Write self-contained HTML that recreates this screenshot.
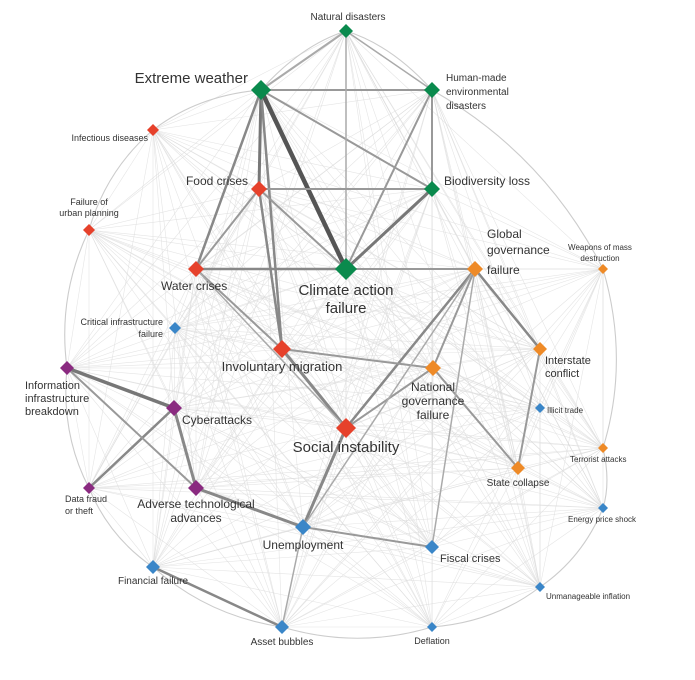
<!DOCTYPE html>
<html><head><meta charset="utf-8"><style>
html,body{margin:0;padding:0;background:#fff;}
svg{display:block;font-family:"Liberation Sans",sans-serif;}
text{fill:#333;}
</style></head><body>
<svg id="s" width="695" height="680" viewBox="0 0 695 680" xmlns="http://www.w3.org/2000/svg">
<g id="mesh"></g><g id="arcs"></g><g id="strong"></g><g id="nodes"></g>
<g font-size="10">
<text x="348" y="20" text-anchor="middle">Natural disasters</text>
<text x="248" y="83" text-anchor="end" font-size="15">Extreme weather</text>
<text x="446" y="81">Human-made</text>
<text x="446" y="95">environmental</text>
<text x="446" y="109">disasters</text>
<text x="148" y="141" text-anchor="end" font-size="9">Infectious diseases</text>
<text x="248" y="185" text-anchor="end" font-size="12">Food crises</text>
<text x="444" y="185" font-size="12">Biodiversity loss</text>
<text x="89" y="205" text-anchor="middle" font-size="9">Failure of</text>
<text x="89" y="216" text-anchor="middle" font-size="9">urban planning</text>
<text x="161" y="290" font-size="12">Water crises</text>
<text x="346" y="295" text-anchor="middle" font-size="15">Climate action</text>
<text x="346" y="313" text-anchor="middle" font-size="15">failure</text>
<text x="487" y="238" font-size="12">Global</text>
<text x="487" y="254" font-size="12">governance</text>
<text x="487" y="274" font-size="12">failure</text>
<text x="600" y="250" text-anchor="middle" font-size="8">Weapons of mass</text>
<text x="600" y="261" text-anchor="middle" font-size="8">destruction</text>
<text x="163" y="325" text-anchor="end" font-size="9">Critical infrastructure</text>
<text x="163" y="337" text-anchor="end" font-size="9">failure</text>
<text x="282" y="371" text-anchor="middle" font-size="13">Involuntary migration</text>
<text x="545" y="364" font-size="11">Interstate</text>
<text x="545" y="377" font-size="11">conflict</text>
<text x="433" y="391" text-anchor="middle" font-size="12">National</text>
<text x="433" y="405" text-anchor="middle" font-size="12">governance</text>
<text x="433" y="419" text-anchor="middle" font-size="12">failure</text>
<text x="25" y="389" font-size="11">Information</text>
<text x="25" y="402" font-size="11">infrastructure</text>
<text x="25" y="415" font-size="11">breakdown</text>
<text x="182" y="424" font-size="12">Cyberattacks</text>
<text x="547" y="413" font-size="8">Illicit trade</text>
<text x="346" y="452" text-anchor="middle" font-size="15">Social instability</text>
<text x="570" y="462" font-size="8">Terrorist attacks</text>
<text x="518" y="486" text-anchor="middle" font-size="10">State collapse</text>
<text x="65" y="502" font-size="9">Data fraud</text>
<text x="65" y="514" font-size="9">or theft</text>
<text x="196" y="508" text-anchor="middle" font-size="12">Adverse technological</text>
<text x="196" y="522" text-anchor="middle" font-size="12">advances</text>
<text x="568" y="522" font-size="8">Energy price shock</text>
<text x="303" y="549" text-anchor="middle" font-size="12">Unemployment</text>
<text x="440" y="562" font-size="11">Fiscal crises</text>
<text x="153" y="584" text-anchor="middle" font-size="10">Financial failure</text>
<text x="546" y="599" font-size="8">Unmanageable inflation</text>
<text x="282" y="645" text-anchor="middle" font-size="10">Asset bubbles</text>
<text x="432" y="644" text-anchor="middle" font-size="9">Deflation</text>
</g>
</svg>
<script>
var G='#0a8a4d',R='#e6412b',O='#ee8a27',B='#3a86c8',P='#8a2a80';
var N={
nd:[346,31,G,7],ew:[261,90,G,10],hm:[432,90,G,8],id:[153,130,R,6],fc:[259,189,R,8],bl:[432,189,G,8],
fu:[89,230,R,6],wc:[196,269,R,8],ca:[346,269,G,11],gg:[475,269,O,8],wm:[603,269,O,5],ci:[175,328,B,6],
im:[282,349,R,9],ic:[540,349,O,7],ng:[433,368,O,8],ii:[67,368,P,7],cy:[174,408,P,8],it:[540,408,B,5],
si:[346,428,R,10],ta:[603,448,O,5],sc:[518,468,O,7],df:[89,488,P,6],at:[196,488,P,8],ep:[603,508,B,5],
un:[303,527,B,8],fi:[432,547,B,7],ff:[153,567,B,7],ui:[540,587,B,5],ab:[282,627,B,7],de:[432,627,B,5]};
var ns='http://www.w3.org/2000/svg';
function el(g,t,a){var e=document.createElementNS(ns,t);for(var k in a)e.setAttribute(k,a[k]);document.getElementById(g).appendChild(e);return e;}
var keys=Object.keys(N);
for(var i=0;i<keys.length;i++)for(var j=i+1;j<keys.length;j++){var a=N[keys[i]],b=N[keys[j]];
if(((i*7+j*13)%4)==0)continue;
el('mesh','line',{x1:a[0],y1:a[1],x2:b[0],y2:b[1],stroke:'#dcdcdc','stroke-width':0.6,opacity:0.75});}
var per=['nd','hm','wm','ta','ep','ui','de','ab','ff','df','ii','fu','id','ew','nd'];
var cx=346,cy=340;
for(var i=0;i<per.length-1;i++){var a=N[per[i]],b=N[per[i+1]];var mx=(a[0]+b[0])/2,my=(a[1]+b[1])/2;var dx=mx-cx,dy=my-cy,l=Math.hypot(dx,dy);var k=Math.hypot(a[0]-b[0],a[1]-b[1])*0.15;
el('arcs','path',{d:'M'+a[0]+','+a[1]+' Q'+(mx+dx/l*k)+','+(my+dy/l*k)+' '+b[0]+','+b[1],fill:'none',stroke:'#cccccc','stroke-width':1.1});}
var S=[['ew','ca',4.5,'#555'],['ew','fc',3,'#777'],['ew','wc',2.5,'#888'],['ew','im',2.5,'#888'],['fc','im',2.5,'#888'],['fc','wc',2,'#999'],['fc','ca',2,'#999'],['ca','bl',3,'#777'],['ew','bl',2,'#999'],['ew','hm',2,'#999'],['ew','nd',2,'#aaa'],['nd','hm',1.5,'#aaa'],['wc','ca',2.5,'#888'],['wc','im',2,'#999'],['im','si',3,'#888'],['si','gg',2.5,'#888'],['un','si',3,'#888'],['ii','cy',3.5,'#777'],['cy','at',3,'#888'],['cy','df',2.5,'#888'],['at','un',3,'#888'],['gg','ic',2.5,'#888'],['ff','ab',2.5,'#888'],['un','fi',2,'#999'],['ic','sc',2,'#999'],['gg','ng',2,'#999'],['ng','sc',2,'#999'],['im','ng',2,'#999'],['si','ng',2,'#999'],['hm','bl',2,'#999'],['nd','ca',1.5,'#aaa'],['hm','ca',2,'#999'],['ca','gg',2,'#999'],['ii','at',2,'#999'],['fc','bl',2,'#999'],['wc','si',1.5,'#aaa'],['gg','un',1.5,'#aaa'],['gg','fi',1.5,'#aaa'],['un','ab',1.5,'#aaa']];
S.forEach(function(s){var a=N[s[0]],b=N[s[1]];el('strong','line',{x1:a[0],y1:a[1],x2:b[0],y2:b[1],stroke:s[3],'stroke-width':s[2],'stroke-linecap':'round'});});
keys.forEach(function(k){var n=N[k],r=n[3];el('nodes','path',{d:'M'+n[0]+','+(n[1]-r)+' L'+(n[0]+r)+','+n[1]+' L'+n[0]+','+(n[1]+r)+' L'+(n[0]-r)+','+n[1]+'Z',fill:n[2]});});
</script>
</body></html>
